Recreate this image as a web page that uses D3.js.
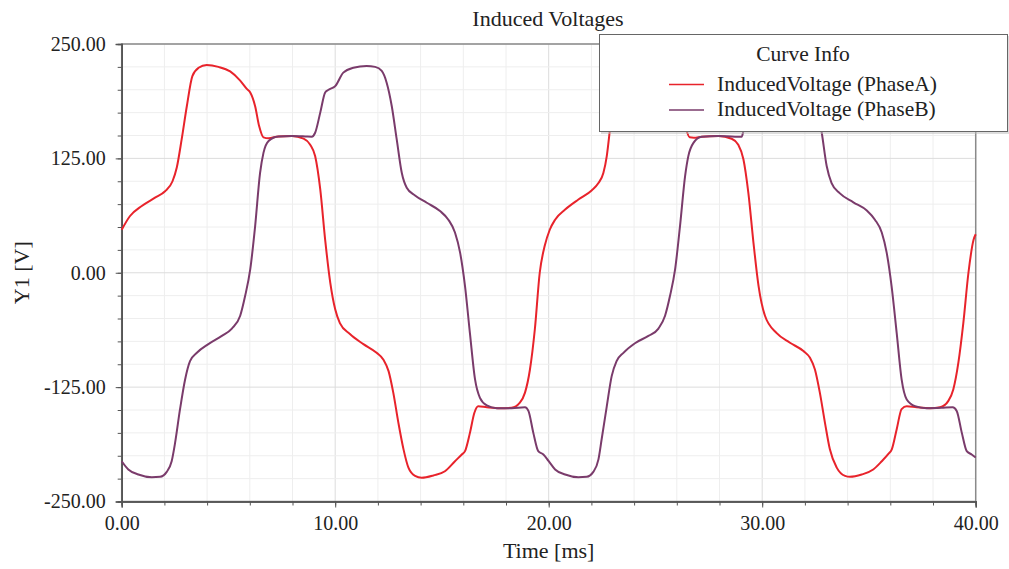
<!DOCTYPE html>
<html>
<head>
<meta charset="utf-8">
<script src="https://cdn.jsdelivr.net/npm/d3@7"></script>
<style>
  body { margin: 0; background: #fff; }
  text { font-family: "Liberation Serif", "DejaVu Serif", serif; fill: #222; }
</style>
</head>
<body>
<svg id="chart"></svg>
<script>
// chart size
var w = 1009;
var h = 569;

// data (time in ms, voltage in V)
var phaseATime = [0, 0.39, 0.94, 1.56, 2.03, 2.38, 2.58, 2.81, 3.05, 3.31, 3.6, 3.98, 4.53, 5.08, 5.55, 5.86, 6.02, 6.25, 6.44, 6.64, 6.88, 7.34, 7.97, 8.52, 8.83, 9.06, 9.3, 9.53, 9.77,
  10.0, 10.22, 10.69, 11.32, 11.94, 12.26, 12.5, 12.72, 12.96, 13.2, 13.43, 13.74, 14.05, 14.6, 15.14, 15.61, 15.93, 16.08, 16.31, 16.52, 16.7, 17.1, 17.72, 18.26, 18.65, 18.89, 19.12, 19.35, 19.58, 19.82,
  20.05, 20.3, 20.77, 21.39, 22.01, 22.33, 22.56, 22.72, 22.87, 23.0, 23.25, 23.55, 23.95, 24.5, 25.05, 25.5, 25.82, 25.98, 26.2, 26.4, 26.6, 26.8, 27.17, 27.95, 28.57, 28.88, 29.12, 29.35, 29.59, 29.83,
  30.13, 30.68, 31.3, 31.93, 32.24, 32.47, 32.7, 32.94, 33.17, 33.49, 33.88, 34.11, 34.66, 35.2, 35.6, 35.91, 36.07, 36.3, 36.53, 36.77, 37.23, 37.86, 38.33, 38.72, 38.95, 39.19, 39.42, 39.66, 39.9, 40.0];
var phaseAVolt = [47, 62, 73, 82, 89, 100, 115, 146, 182, 215, 224, 227, 225, 220, 210, 201, 197, 182, 160, 148, 147, 149, 149.5, 146.5, 140, 127.5, 91, 36, -11,
  -40, -55, -67, -78, -87.5, -95, -107.5, -131, -164, -193, -213, -222, -224, -221.5, -217, -206, -198.6, -195, -175, -153, -146, -147, -148, -147.6, -142, -131, -106, -62, 0, 30,
  47, 58, 69, 80, 90, 98, 109, 127.5, 157, 185, 214, 224, 227, 225, 220, 210, 201, 197, 182, 160, 148, 147.6, 148.7, 149.4, 146.5, 140, 124, 87.5, 33, -14.6,
  -47, -66, -76.5, -85.6, -93, -105.7, -131, -164, -193, -213, -222, -223, -220.5, -215, -206, -198, -193, -171, -149, -146, -147, -148, -147, -140, -127.5, -98, -55, 0, 36, 42];

var phaseBTime = [0, 0.31, 0.78, 1.41, 1.8, 2.11, 2.34, 2.5, 2.73, 2.97, 3.2, 3.52, 4.06, 4.69, 5.16, 5.55, 5.78, 6.02, 6.25, 6.48, 6.64, 6.88, 7.34, 7.97, 8.59, 8.9, 9.06, 9.3, 9.53, 9.69,
  10.0, 10.38, 10.85, 11.47, 11.87, 12.18, 12.41, 12.65, 12.88, 13.12, 13.35, 13.74, 14.29, 14.91, 15.3, 15.61, 15.85, 16.08, 16.31, 16.55, 16.78, 17.1, 17.56, 18.26, 18.89, 19.05, 19.28, 19.51, 19.75,
  20.0, 20.3, 20.77, 21.39, 21.78, 22.09, 22.33, 22.48, 22.72, 22.95, 23.18, 23.5, 24.04, 24.67, 25.14, 25.45, 25.68, 25.92, 26.15, 26.39, 26.54, 26.78, 27.17, 27.95, 28.73, 29.04, 29.12, 29.3, 29.53, 29.69,
  30.0, 30.38, 30.85, 31.47, 31.87, 32.18, 32.41, 32.57, 32.79, 33.02, 33.25, 33.64, 34.27, 34.9, 35.28, 35.6, 35.83, 36.06, 36.3, 36.53, 36.77, 37.16, 37.7, 38.4, 38.92, 39.11, 39.35, 39.58, 39.81, 40.0];
var phaseBVolt = [-206, -215, -220.5, -223.4, -223, -217.6, -206, -186, -149.4, -116.6, -96.6, -87.5, -78, -69, -61, -47, -25.5, 3.6, 51, 109, 131, 144, 149, 149.4, 149, 148.7, 153, 175, 197, 200,
  204, 218.7, 224, 226, 225, 220.5, 207.7, 182, 146, 109, 93, 84.5, 76.5, 67.4, 58, 44, 22, -14.6, -66, -116.6, -136.7, -145, -148, -148, -147, -151, -175, -195, -198.6,
  -206, -215, -220.5, -223.4, -223, -217.6, -204, -182, -146, -113, -96.6, -87.5, -77, -69, -61, -47, -25.5, 3.6, 51, 106, 127.5, 142, 148.7, 149.4, 148.7, 148.7, 155, 175, 197, 200,
  204, 218.7, 224, 226, 225, 220.5, 207.7, 182, 153, 116.6, 98, 86.7, 77, 68, 58, 44, 22, -14.6, -66, -116.6, -138.5, -145.8, -148, -147.6, -147, -151, -175, -195, -198.6, -202];

var seriesNames = ["InducedVoltage (PhaseA)", "InducedVoltage (PhaseB)"];
var seriesColors = ["#e8232b", "#7a3b6b"];

var yMajor = [-250, -125, 0, 125, 250];
var xMajor = [0, 10, 20, 30, 40];

var margin = { left: 121.7, right: 1009 - 975.7, top: 44, bottom: 569 - 501.5 };

var svg = d3.select('#chart')
    .attr('width', w)
    .attr('height', h);

var x = d3.scaleLinear().domain([0, 40]).range([margin.left, w - margin.right]);
var y = d3.scaleLinear().domain([-250, 250]).range([h - margin.bottom, margin.top]);

// grid: light minor lines, slightly darker major lines
var grid = svg.append('g');
grid.selectAll('.vminor').data(d3.range(0, 40.01, 2))
    .enter().append('line')
    .attr('x1', d => x(d)).attr('x2', d => x(d))
    .attr('y1', y(-250)).attr('y2', y(250))
    .style('stroke', d => d % 10 === 0 ? '#dcdcdc' : '#eeeeee')
    .style('stroke-width', 1);
grid.selectAll('.hminor').data(d3.range(-250, 250.01, 25))
    .enter().append('line')
    .attr('y1', d => y(d)).attr('y2', d => y(d))
    .attr('x1', x(0)).attr('x2', x(40))
    .style('stroke', d => d % 125 === 0 ? '#dcdcdc' : '#eeeeee')
    .style('stroke-width', 1);

// frame
svg.append('rect')
    .attr('x', x(0)).attr('y', y(250))
    .attr('width', x(40) - x(0)).attr('height', y(-250) - y(250))
    .style('fill', 'none')
    .style('stroke', '#8a8a8a')
    .style('stroke-width', 1.5);

// axes (plain hyphen for negatives, like the original)
var fmt = d => d3.format('.2f')(d).replace('\u2212', '-');
var yAxis = d3.axisLeft(y).tickValues(yMajor).tickFormat(fmt).tickSize(6).tickPadding(10);
var xAxis = d3.axisBottom(x).tickValues(xMajor).tickFormat(fmt).tickSize(6).tickPadding(8);
var yMinor = d3.axisLeft(y).tickValues(d3.range(-250, 250.01, 25)).tickFormat('').tickSize(4);
var xMinor = d3.axisBottom(x).tickValues(d3.range(0, 40.01, 2)).tickFormat('').tickSize(4);

function styleAxis(g) {
    g.select('.domain').style('stroke', '#555').style('stroke-width', 1.5);
    g.selectAll('.tick line').style('stroke', '#555');
    g.selectAll('.tick text').style('font-family', '"Liberation Serif", serif')
        .style('font-size', '20px').style('fill', '#222');
}

svg.append('g').attr('transform', 'translate(' + x(0) + ',0)').call(yMinor).call(styleAxis);
svg.append('g').attr('transform', 'translate(0,' + y(-250) + ')').call(xMinor).call(styleAxis);
svg.append('g').attr('transform', 'translate(' + x(0) + ',0)').call(yAxis).call(styleAxis);
svg.append('g').attr('transform', 'translate(0,' + y(-250) + ')').call(xAxis).call(styleAxis);

// curves
var series = [
    phaseATime.map((t, i) => [t, phaseAVolt[i]]),
    phaseBTime.map((t, i) => [t, phaseBVolt[i]])
];
var line = d3.line()
    .x(d => x(d[0]))
    .y(d => y(d[1]))
    .curve(d3.curveMonotoneX);

svg.append('g').selectAll('path').data(series)
    .enter().append('path')
    .attr('d', line)
    .style('fill', 'none')
    .style('stroke', (d, i) => seriesColors[i])
    .style('stroke-width', 2)
    .style('stroke-linejoin', 'round');

// titles
svg.append('text')
    .attr('x', 548).attr('y', 26)
    .attr('text-anchor', 'middle')
    .style('font-size', '22px')
    .text('Induced Voltages');
svg.append('text')
    .attr('x', x(20)).attr('y', 558)
    .attr('text-anchor', 'middle')
    .style('font-size', '22px')
    .text('Time [ms]');
svg.append('text')
    .attr('transform', 'translate(29,' + y(0) + ')rotate(-90)')
    .attr('text-anchor', 'middle')
    .style('font-size', '22px')
    .text('Y1 [V]');

// legend box
var legend = svg.append('g');
legend.append('rect')
    .attr('x', 601).attr('y', 36).attr('width', 409).attr('height', 98)
    .style('fill', '#bbb').style('opacity', 0.5);
legend.append('rect')
    .attr('x', 599.5).attr('y', 34.5).attr('width', 408).attr('height', 97)
    .style('fill', '#fff').style('stroke', '#666').style('stroke-width', 1);
legend.append('text')
    .attr('x', 803).attr('y', 61)
    .attr('text-anchor', 'middle')
    .style('font-size', '21.5px')
    .text('Curve Info');
var items = legend.selectAll('.item').data(seriesNames)
    .enter().append('g')
    .attr('transform', (d, i) => 'translate(0,' + (84.5 + i * 25.5) + ')');
items.append('line')
    .attr('x1', 669).attr('x2', 704)
    .style('stroke', (d, i) => seriesColors[i])
    .style('stroke-width', 1.5);
items.append('text')
    .attr('x', 717).attr('y', 6)
    .style('font-size', '21.5px')
    .text(d => d);
</script>
</body>
</html>
